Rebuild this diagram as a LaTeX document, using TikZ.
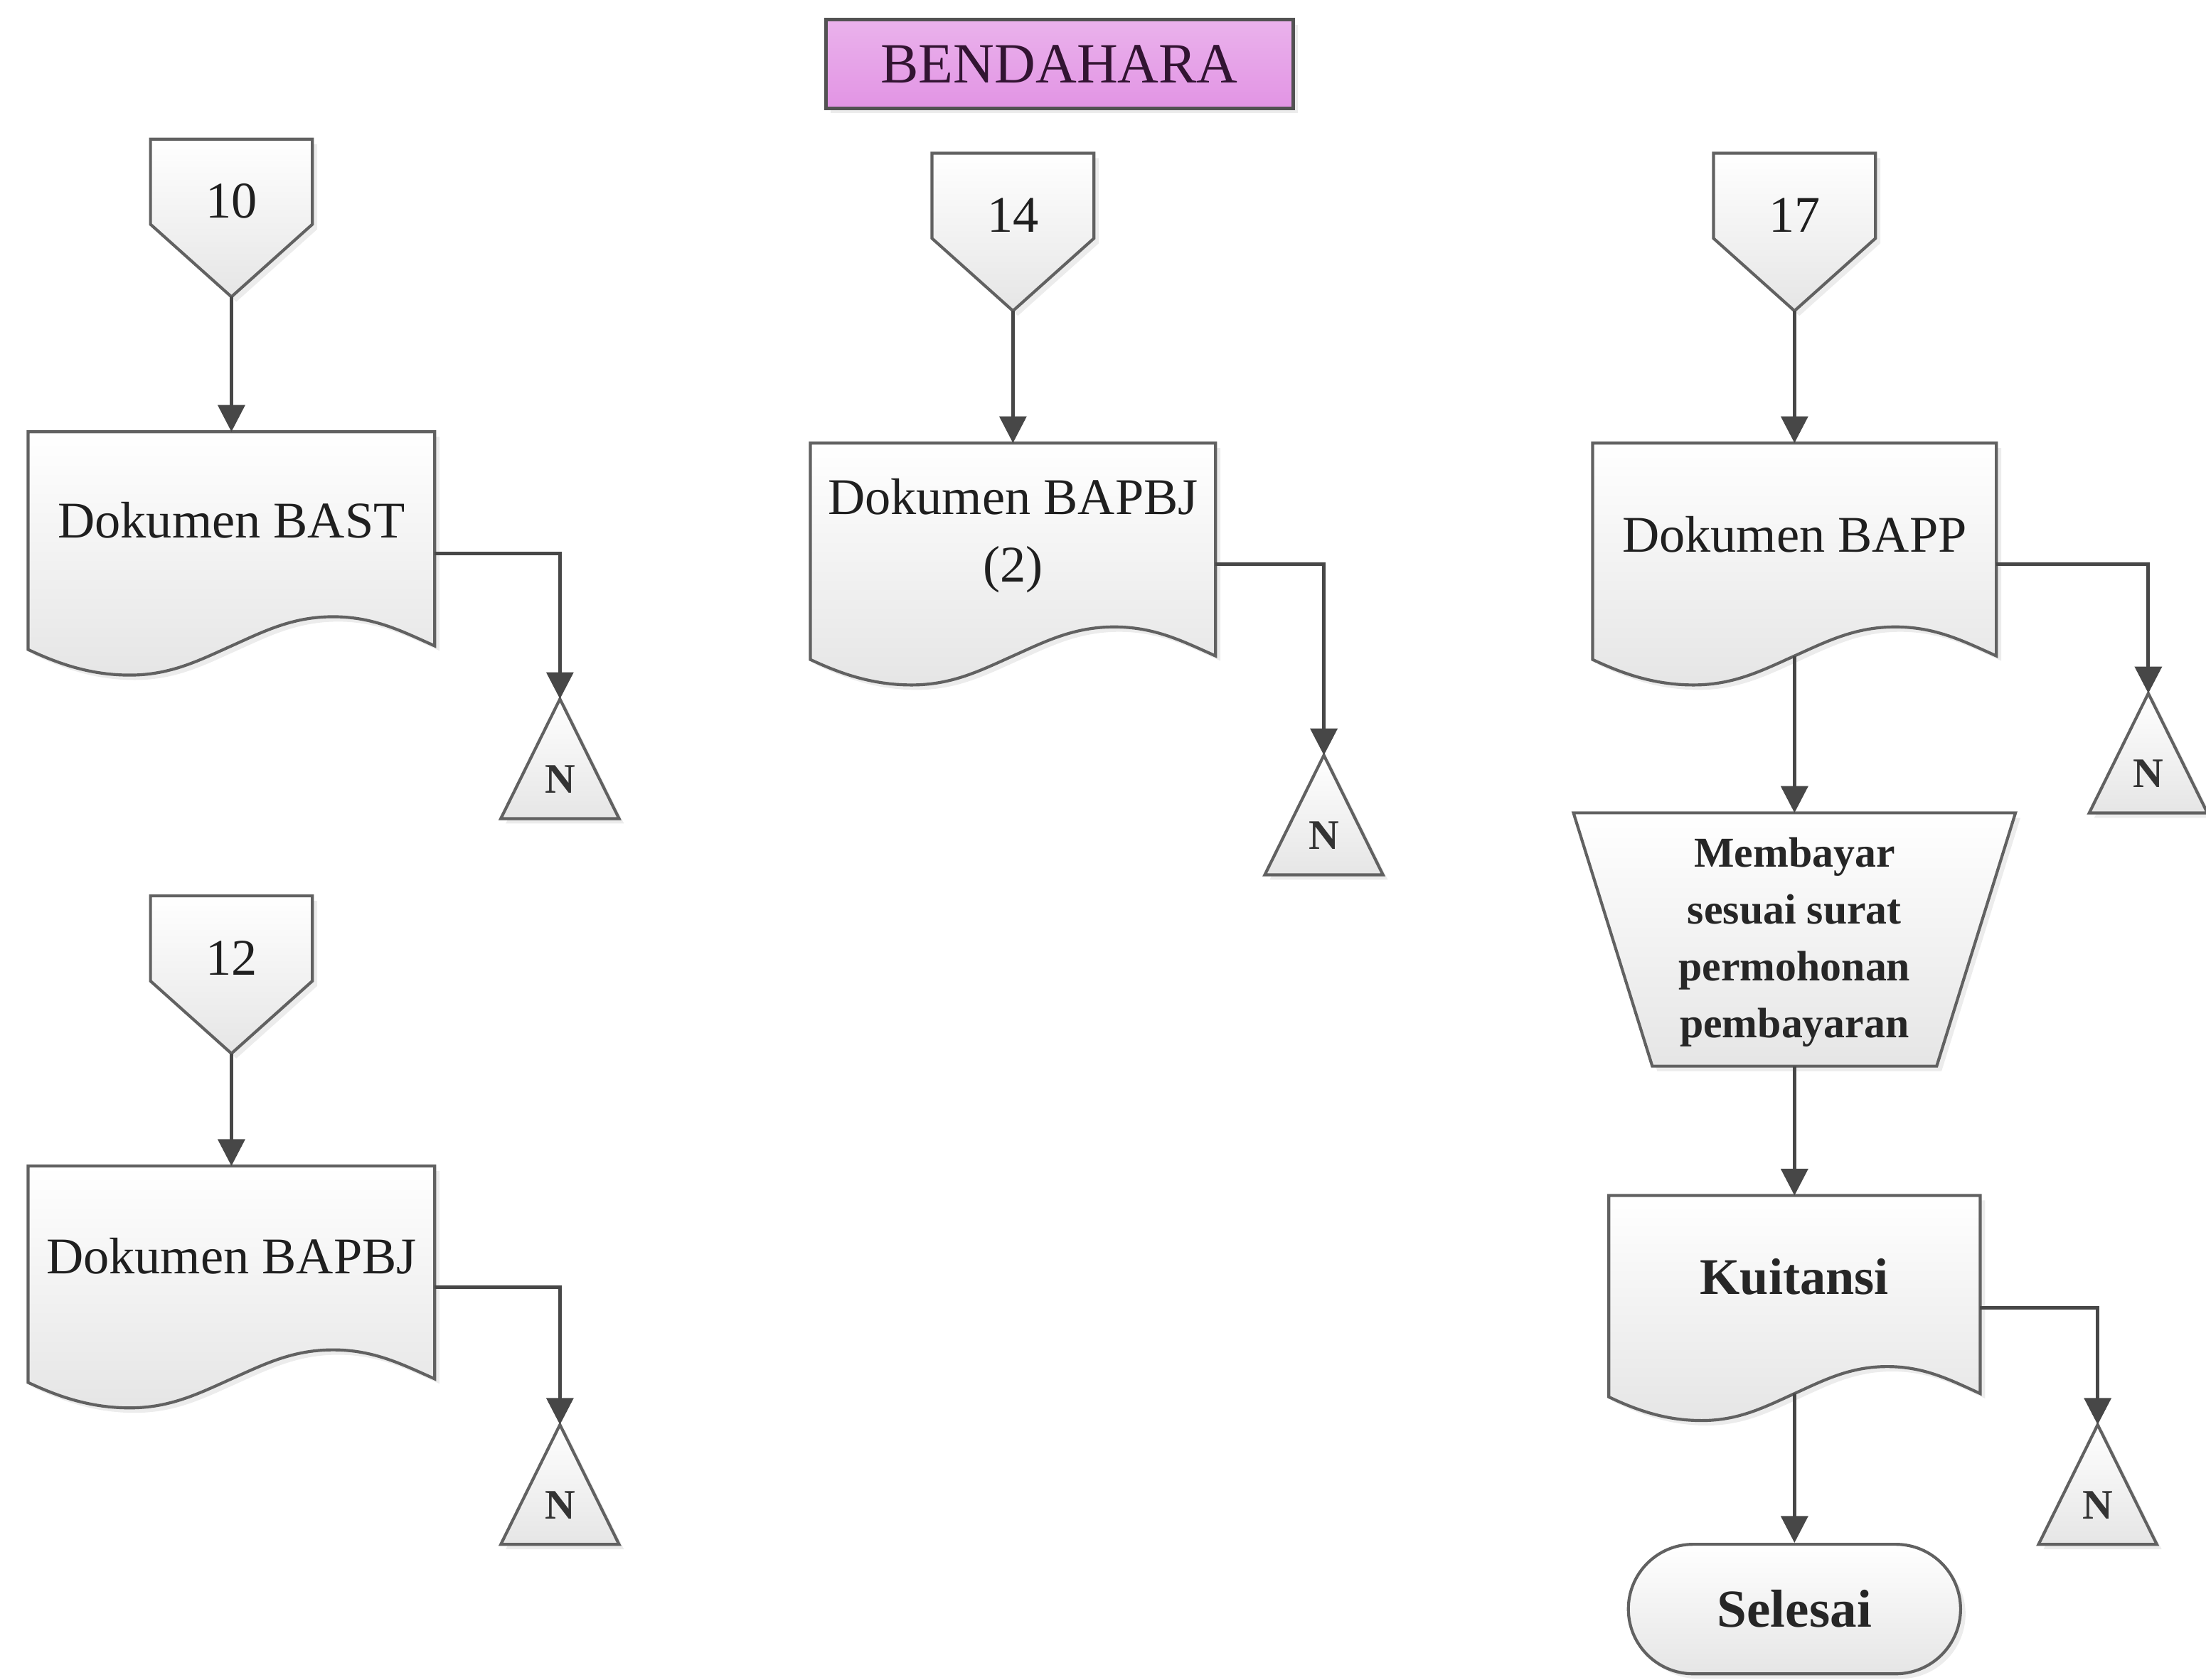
\documentclass[tikz,border=0pt]{standalone}
\usepackage{fontspec}
\setmainfont{Liberation Serif}
\usetikzlibrary{arrows.meta,calc,shadows}
\tikzset{
  outline/.style={draw=black!62, line width=0.6pt, top color=white, bottom color=black!10,
    drop shadow={opacity=0.15, shadow xshift=0.035cm, shadow yshift=-0.035cm}},
  box/.style={draw=none, inner sep=0pt, outer sep=0pt},
  flow/.style={draw=black!72, line width=0.7pt, -{Triangle[width=0.19cm,length=0.19cm]}},
  lbl/.style={inner sep=0pt, align=center, text=black!88, font=\fontsize{10.4}{13.6}\selectfont},
  blbl/.style={inner sep=0pt, align=center, text=black!85, font=\fontsize{10.4}{13.6}\selectfont\bfseries},
  tlbl/.style={inner sep=0pt, align=center, text=black!85, font=\fontsize{8.6}{11.5}\selectfont\bfseries},
  nlbl/.style={inner sep=0pt, text=black!80, font=\fontsize{8.5}{10}\selectfont\bfseries},
  titlebox/.style={draw=black!68, line width=0.7pt,
    top color={rgb,255:red,234;green,178;blue,236}, bottom color={rgb,255:red,226;green,148;blue,228},
    minimum width=3.32cm, minimum height=0.63cm, inner sep=0pt, text={rgb,255:red,50;green,20;blue,50},
    font=\fontsize{11.5}{14}\selectfont,
    drop shadow={opacity=0.15, shadow xshift=0.035cm, shadow yshift=-0.035cm}},
  termbox/.style={outline, rounded corners=0.46cm, minimum width=2.36cm, minimum height=0.92cm,
    inner sep=0pt, text=black!85, font=\fontsize{10.8}{13}\selectfont\bfseries},
}
% document shape: name, cx, cy, W, H, text-y, text style, text
\newcommand\docshape[8]{%
  \node[box, minimum width={#4*0.01cm}, minimum height={#5*0.01cm}] (#1) at (#2,#3) {};
  \path[outline, shift={({#2-#4/2},{#3-#5/2})}]
    (0,0) -- (#4,0) -- (#4,{0.88*#5})
    .. controls ({0.92*#4},{0.82*#5}) and ({0.85*#4},{0.76*#5}) .. ({0.75*#4},{0.76*#5})
    .. controls ({0.65*#4},{0.76*#5}) and ({0.58*#4},{0.82*#5}) .. ({0.5*#4},{0.88*#5})
    .. controls ({0.42*#4},{0.94*#5}) and ({0.35*#4},{#5}) .. ({0.25*#4},{#5})
    .. controls ({0.15*#4},{#5}) and ({0.07*#4},{0.95*#5}) .. (0,{0.895*#5}) -- cycle;
  \coordinate (#1-w) at (#2,{#3-#5/2+0.88*#5});
  \node[#7] (#1-t) at (#2,#6) {#8};
}
% off-page connector: name, cx, top-y, text
\newcommand\offpage[4]{%
  \node[box, minimum width=1.15cm, minimum height=1.12cm] (#1) at (#2,{#3+56}) {};
  \path[outline] (#1.north west) -- (#1.north east)
    -- ($(#1.north east)!0.54!(#1.south east)$) -- (#1.south)
    -- ($(#1.north west)!0.54!(#1.south west)$) -- cycle;
  \node[lbl] (#1-t) at (#2,{#3+44}) {#4};
}
% triangle N: name, cx, apex-y
\newcommand\offN[3]{%
  \node[box, minimum width=0.84cm, minimum height=0.85cm] (#1) at (#2,{#3+42.5}) {};
  \path[outline] (#1.north) -- (#1.south east) -- (#1.south west) -- cycle;
  \node[nlbl] (#1-t) at (#2,{#3+57}) {N};
}
\begin{document}
\begin{tikzpicture}[x=0.01cm, y=-0.01cm]
\useasboundingbox (0,0) rectangle (1568,1194);

\node[titlebox] (title) at (753,45.5) {BENDAHARA};

% column 1
\offpage{p10}{164.5}{99}{10}
\docshape{bast}{164.5}{393.5}{289}{173}{370}{lbl}{Dokumen BAST}
\offN{n1}{398}{497}
\offpage{p12}{164.5}{637}{12}
\docshape{bapbj}{164.5}{915}{289}{172}{893}{lbl}{Dokumen BAPBJ}
\offN{n2}{398}{1013}

% column 2
\offpage{p14}{720}{109}{14}
\docshape{bapbjb}{720}{401}{288}{172}{381}{lbl}{Dokumen BAPBJ\\(2)}
\offN{n3}{941}{537}

% column 3
\offpage{p17}{1275.5}{109}{17}
\docshape{bapp}{1275.5}{401}{287}{172}{380}{lbl}{Dokumen BAPP}
\offN{n4}{1527}{493}

\node[box, minimum width=3.14cm, minimum height=1.8cm] (trap) at (1275.5,668) {};
\path[outline] (trap.north west) -- (trap.north east) -- ([xshift=-0.56cm]trap.south east)
  -- ([xshift=0.56cm]trap.south west) -- cycle;
\node[tlbl] (trap-t) at (1275.5,670) {Membayar\\sesuai surat\\permohonan\\pembayaran};

\docshape{kui}{1275.5}{930}{264}{160}{908}{blbl}{Kuitansi}
\offN{n5}{1491}{1013}

\node[termbox] (sel) at (1275.5,1144) {Selesai};

% connectors
\draw[flow] (p10.south) -- (bast.north);
\draw[flow] (bast.east) -| (n1.north);
\draw[flow] (p12.south) -- (bapbj.north);
\draw[flow] (bapbj.east) -| (n2.north);
\draw[flow] (p14.south) -- (bapbjb.north);
\draw[flow] (bapbjb.east) -| (n3.north);
\draw[flow] (p17.south) -- (bapp.north);
\draw[flow] (bapp.east) -| (n4.north);
\draw[flow] (bapp-w) -- (trap.north);
\draw[flow] (trap.south) -- (kui.north);
\draw[flow] (kui.east) -| (n5.north);
\draw[flow] (kui-w) -- (sel.north);
\end{tikzpicture}
\end{document}
